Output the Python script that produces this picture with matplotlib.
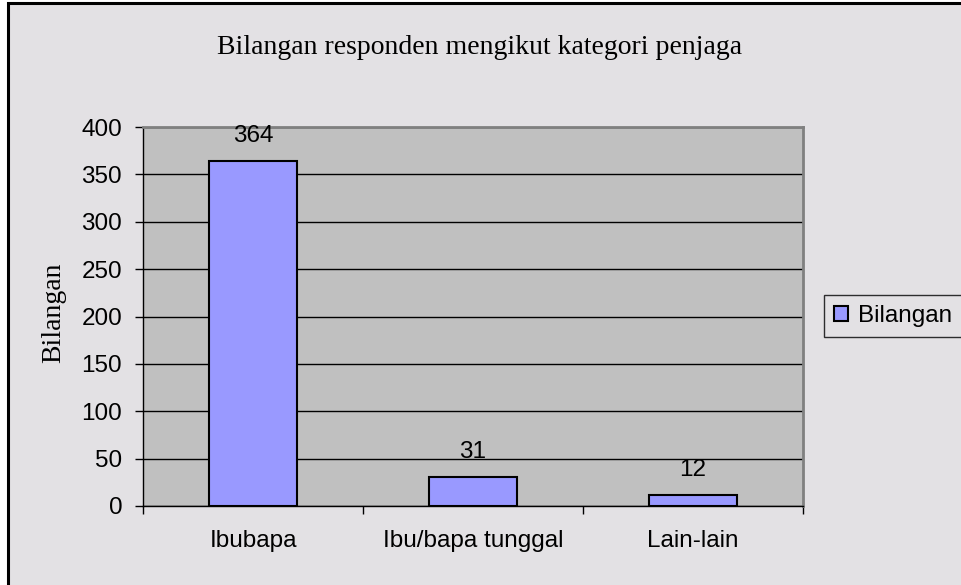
import matplotlib.pyplot as plt
from matplotlib.patches import Rectangle

# data
kategori = ["Ibubapa", "Ibu/bapa tunggal", "Lain-lain"]
bilangan = [364, 31, 12]
y_ticks = [0, 50, 100, 150, 200, 250, 300, 350, 400]

fs = 17.5  # sans text size

fig = plt.figure(figsize=(9.61, 5.85), dpi=100)
fig.patch.set_facecolor("white")

# chart area frame (Excel style)
frame = Rectangle((8 / 961, -0.02), 1.0, 1.02 - 3 / 585, transform=fig.transFigure,
                  facecolor="#E3E1E4", edgecolor="black", linewidth=2.2, zorder=-5)
fig.patches.append(frame)

ax = fig.add_axes([143 / 961, 1 - 506 / 585, 660 / 961, 379 / 585])
ax.set_zorder(2)
ax.set_facecolor("#C0C0C0")

x = list(range(len(kategori)))
bars = ax.bar(x, bilangan, width=0.4, color="#9999FF", edgecolor="black",
              linewidth=1.5, zorder=3)

for xi, v in zip(x, bilangan):
    ax.annotate(str(v), (xi, v), xytext=(0, 10), textcoords="offset points",
                ha="center", va="bottom", fontsize=fs, family="Liberation Sans")

ax.set_xlim(-0.5, 2.5)
ax.set_ylim(0, 400)
ax.set_yticks(y_ticks)
ax.set_yticklabels([str(t) for t in y_ticks], fontsize=fs, family="Liberation Sans")
ax.yaxis.grid(True, color="black", linewidth=1)
ax.set_axisbelow(True)

# x ticks at category borders, labels centred
ax.set_xticks([-0.5, 0.5, 1.5, 2.5])
ax.set_xticklabels([])
ax.set_xticks(x, minor=True)
ax.set_xticklabels(kategori, minor=True, fontsize=fs, family="Liberation Sans")
ax.tick_params(axis="x", which="major", direction="out", length=5.5, width=1, color="black")
ax.tick_params(axis="x", which="minor", length=0, pad=17)
ax.tick_params(axis="y", direction="out", length=6, width=1, pad=9)

for s in ["top", "right"]:
    ax.spines[s].set_color("#808080")
    ax.spines[s].set_linewidth(2)
for s in ["left", "bottom"]:
    ax.spines[s].set_color("black")
    ax.spines[s].set_linewidth(1)

fig.text(54 / 961, 1 - 313 / 585, "Bilangan", rotation=90,
         ha="center", va="center", family="Liberation Serif", fontsize=20)
fig.text(480 / 961, 1 - 47 / 585,
         "Bilangan responden mengikut kategori penjaga",
         ha="center", va="center", family="Liberation Serif", fontsize=20)

leg = ax.legend([bars], ["Bilangan"], loc="center left",
                bbox_to_anchor=(824 / 961, 1 - 316 / 585), bbox_transform=fig.transFigure,
                prop={"family": "Liberation Sans", "size": fs},
                frameon=True, fancybox=False, edgecolor="black",
                handlelength=0.6, handleheight=0.6, handletextpad=0.4,
                borderpad=0.4, borderaxespad=0)
leg.get_frame().set_facecolor("#E3E1E4")
leg.get_frame().set_linewidth(1)

fig.savefig("out.png", dpi=100, facecolor=fig.get_facecolor())
